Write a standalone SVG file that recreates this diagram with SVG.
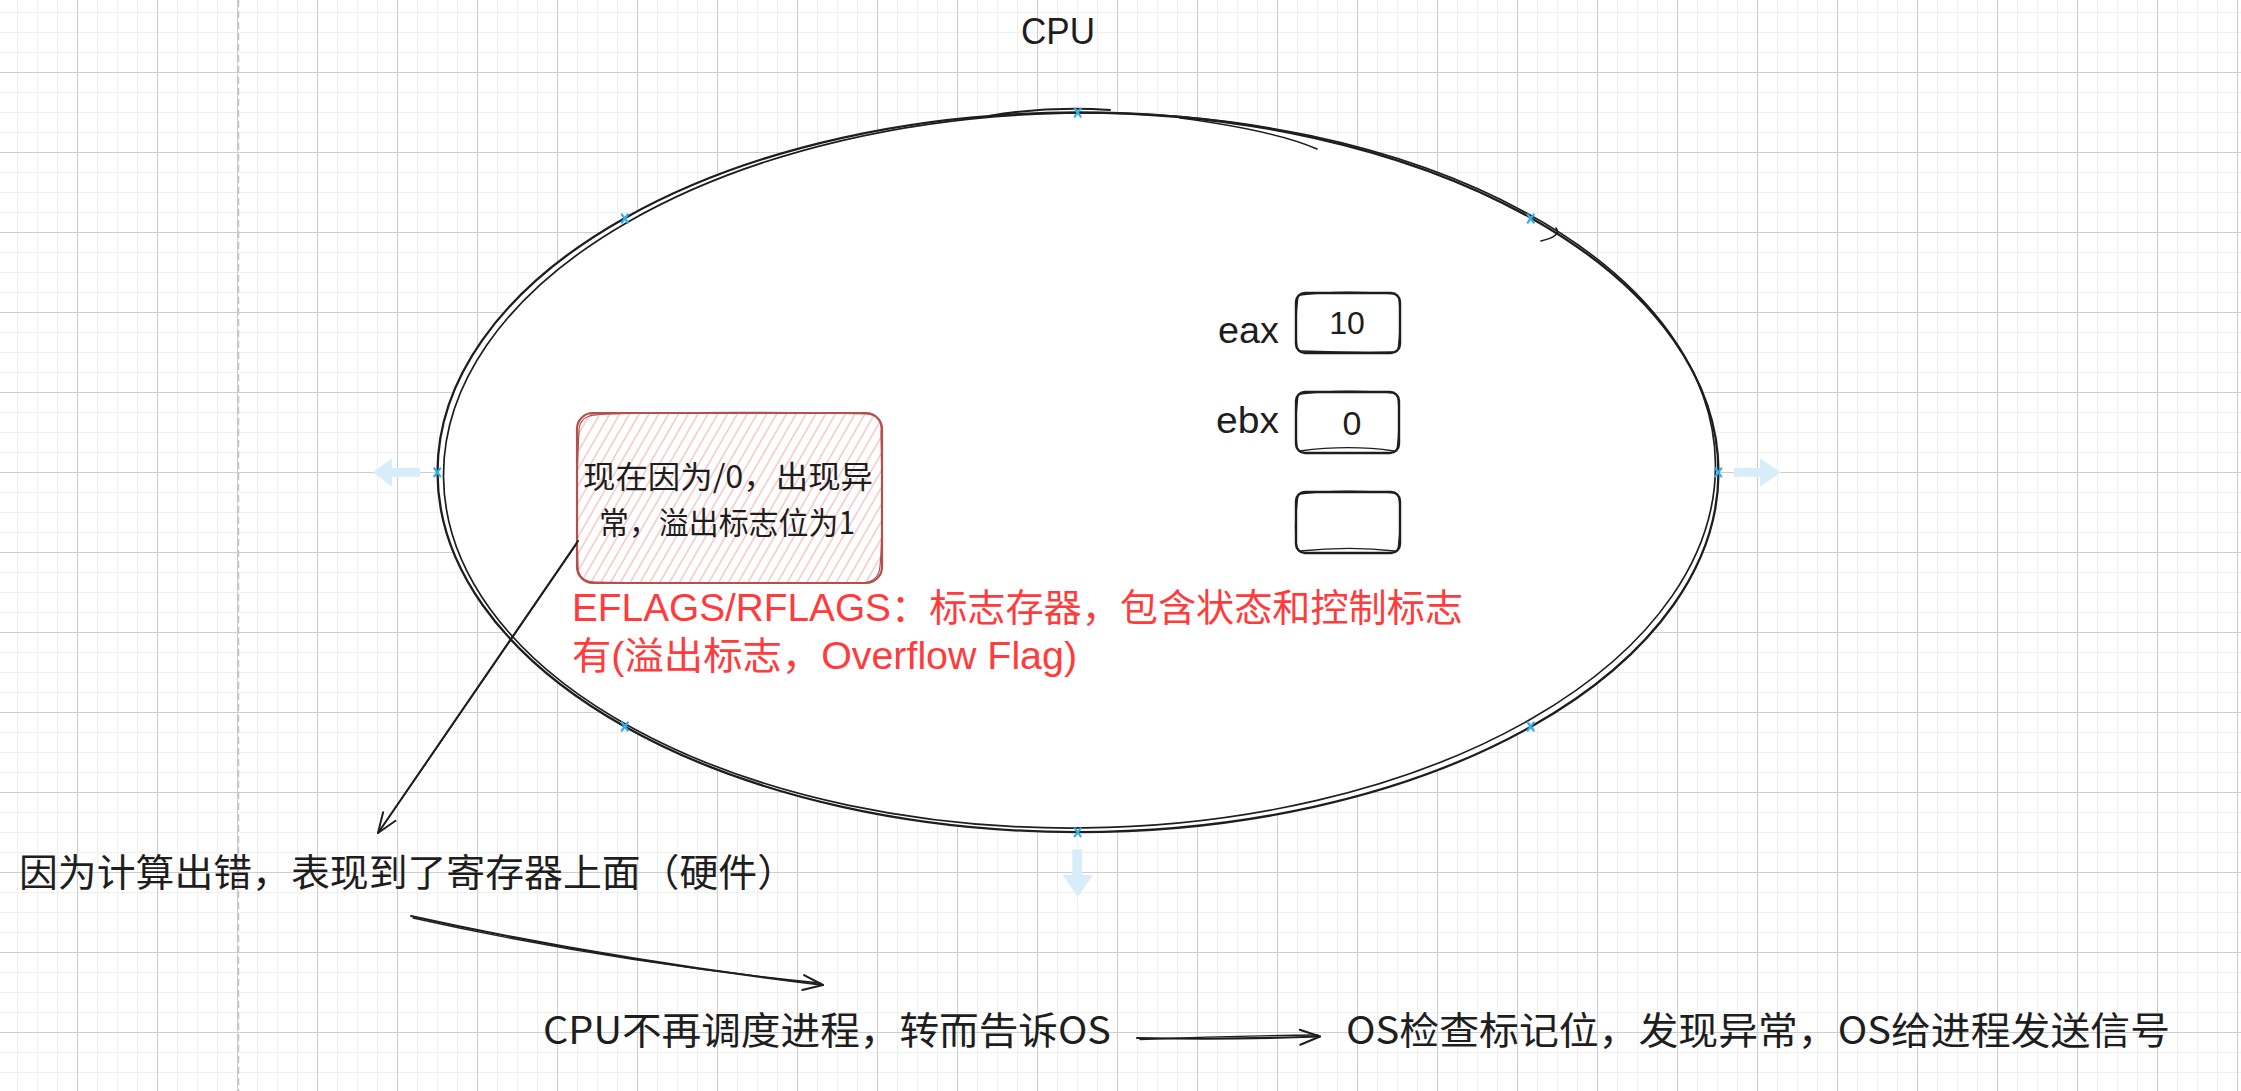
<svg xmlns="http://www.w3.org/2000/svg" width="2241" height="1091" viewBox="0 0 2241 1091">
<defs>
<pattern id="grid" x="77" y="72" width="80" height="80" patternUnits="userSpaceOnUse">
<path d="M20.5 0V80M40.5 0V80M60.5 0V80M0 20.5H80M0 40.5H80M0 60.5H80" stroke="#f0f0f0" stroke-width="1" fill="none"/>
<path d="M0.5 0V80M0 0.5H80" stroke="#cdcdcd" stroke-width="1" fill="none"/>
</pattern>
<pattern id="hach" patternUnits="userSpaceOnUse" width="8.5" height="8.5" patternTransform="rotate(30)">
<line x1="4" y1="0" x2="4" y2="8.5" stroke="#f2b2b2" stroke-width="1.1"/>
</pattern>
<marker id="ah" markerUnits="userSpaceOnUse" markerWidth="30" markerHeight="30" refX="0" refY="0" viewBox="-24 -12 30 24" orient="auto" overflow="visible">
<path d="M-20,-7.5 L0,0 L-20,7.5" fill="none" stroke="#1e1e1e" stroke-width="2" stroke-linecap="round" stroke-linejoin="round"/>
</marker>
</defs>
<style>
.ln{fill:none;stroke:#1e1e1e;stroke-linecap:round;stroke-linejoin:round}
.hd{fill:#d8edfa}
.hx{stroke:#35aee8;stroke-width:2.2;fill:none;stroke-linecap:round}
.lat{font-family:"Liberation Sans","Noto Sans",sans-serif;fill:#1e1e1e}
.cjk{font-family:"Noto Sans CJK SC","Noto Sans",sans-serif;fill:#1e1e1e}
.mix{font-family:"Liberation Sans","Noto Sans CJK SC",sans-serif}
.red{fill:#ff3b3b}
.box{fill:#fff;stroke:#1e1e1e;stroke-width:2.4}
.box2{fill:none;stroke:#1e1e1e;stroke-width:1.3}
</style>
<rect x="0" y="0" width="2241" height="1091" fill="#ffffff"/>
<rect x="0" y="0" width="2241" height="1091" fill="url(#grid)"/>
<line x1="238.5" y1="0" x2="238.5" y2="1091" stroke="#c4c4c4" stroke-width="1.5" stroke-dasharray="7 4"/>

<g id="cpu-label"><text class="lat" x="1021" y="44" font-size="36" textLength="74" lengthAdjust="spacingAndGlyphs">CPU</text></g>

<g id="cpu-ellipse">
<ellipse cx="1078" cy="472" rx="640" ry="359.5" fill="#ffffff" stroke="none"/>
<ellipse class="ln" cx="1078" cy="472.3" rx="640.5" ry="359.8" stroke-width="2.3"/>
<ellipse class="ln" cx="1079.5" cy="470.5" rx="636" ry="357.5" stroke-width="1.7" transform="rotate(-0.6 1078 472)"/>
<path class="ln" stroke-width="2" d="M989,116 C1030,109 1070,107 1110,110"/>
<path class="ln" stroke-width="1.6" d="M1180,118 C1240,126 1290,137 1317,149"/>
<path class="ln" stroke-width="1.6" d="M1556,228 Q1562,236 1541,241"/>
</g>

<g id="handles">
<path class="hx" d="M1074.7,108.7l6,8M1080.7,108.7l-6,8"/>
<path class="hx" d="M621.8,214.5l6,8M627.8,214.5l-6,8"/>
<path class="hx" d="M1527.7,214.5l6,8M1533.7,214.5l-6,8"/>
<path class="hx" d="M434.3,468.3l6,8M440.3,468.3l-6,8"/>
<path class="hx" d="M1715.3,468.3l6,8M1721.3,468.3l-6,8"/>
<path class="hx" d="M621.8,722.5l6,8M627.8,722.5l-6,8"/>
<path class="hx" d="M1527.7,722.5l6,8M1533.7,722.5l-6,8"/>
<path class="hx" d="M1074.7,828.3l6,8M1080.7,828.3l-6,8"/>
<polygon class="hd" points="373,472.3 392,458.3 392,467.7 420,467.7 420,476.7 392,476.7 392,486.7"/>
<polygon class="hd" points="1781,472.3 1760,458.3 1760,467.7 1734,467.7 1734,476.7 1760,476.7 1760,486.7"/>
<polygon class="hd" points="1077.7,896.7 1062.7,875 1072.2,875 1072.2,849.3 1082.2,849.3 1082.2,875 1093.3,875"/>
</g>

<g id="reg-eax">
<text class="lat" x="1218" y="343" font-size="37" textLength="61" lengthAdjust="spacingAndGlyphs">eax</text>
<rect class="box" x="1296" y="293" width="104" height="60" rx="9"/>
<path class="box2" d="M1300,295 C1330,291 1370,292 1396,294 M1399,298 C1401,318 1400,335 1398,350 M1395,352 C1360,353 1330,352 1300,351 M1297,348 C1295,330 1296,312 1298,296"/>
<text class="lat" x="1347" y="334" font-size="32" text-anchor="middle">10</text>
</g>

<g id="reg-ebx">
<text class="lat" x="1216" y="433" font-size="37" textLength="63" lengthAdjust="spacingAndGlyphs">ebx</text>
<rect class="box" x="1296" y="392" width="103" height="61" rx="9"/>
<path class="box2" d="M1300,394 C1330,390 1370,391 1395,393 M1398,397 C1400,418 1399,435 1397,450 M1394,451 C1360,446 1330,447 1300,451 M1297,447 C1295,430 1296,412 1298,395"/>
<text class="lat" x="1352" y="435" font-size="34" text-anchor="middle">0</text>
</g>

<g id="reg-empty">
<rect class="box" x="1296" y="492" width="104" height="61" rx="9"/>
<path class="box2" d="M1299,494 C1330,490 1370,491 1396,493 M1399,497 C1401,518 1400,535 1398,550 M1395,551 C1360,547 1330,548 1300,551 M1297,548 C1294,530 1296,512 1298,495"/>
</g>

<g id="note-box">
<rect x="577" y="413" width="305" height="170" rx="16" fill="url(#hach)" stroke="#b4504d" stroke-width="2.2"/>
<path d="M590,415 C680,411 800,412 866,414 Q883,415 881,432 C882,480 883,540 880,566 Q879,582 862,583 C780,584 660,583 596,582 Q578,582 578,566 C576,520 577,470 579,430 Q580,415 598,415" fill="none" stroke="#b4504d" stroke-width="1.2"/>
<text class="cjk" font-size="31"><tspan x="583" y="488" textLength="290" lengthAdjust="spacingAndGlyphs">现在因为/0，出现异</tspan><tspan x="599" y="534" textLength="256" lengthAdjust="spacingAndGlyphs">常，溢出标志位为1</tspan></text>
</g>

<g id="eflags-note">
<text class="mix red" font-size="38"><tspan x="572" y="621" textLength="319" lengthAdjust="spacingAndGlyphs">EFLAGS/RFLAGS</tspan><tspan x="891" y="621" textLength="572" lengthAdjust="spacingAndGlyphs">：标志存器，包含状态和控制标志</tspan><tspan x="572" y="669" textLength="505" lengthAdjust="spacingAndGlyphs">有(溢出标志，Overflow Flag)</tspan></text>
</g>

<g id="text-hardware"><text class="cjk" x="19" y="886" font-size="38" textLength="777" lengthAdjust="spacingAndGlyphs">因为计算出错，表现到了寄存器上面（硬件）</text></g>
<g id="text-cpu-os"><text class="cjk" x="543" y="1044" font-size="38" textLength="568" lengthAdjust="spacingAndGlyphs">CPU不再调度进程，转而告诉OS</text></g>
<g id="text-os-signal"><text class="cjk" x="1346" y="1044" font-size="38" textLength="824" lengthAdjust="spacingAndGlyphs">OS检查标记位，发现异常，OS给进程发送信号</text></g>

<g id="connectors">
<path class="ln" stroke-width="2" d="M578,541 L378,833" marker-end="url(#ah)"/>
<path class="ln" stroke-width="1.3" d="M576,545 L381,829"/>
<path class="ln" stroke-width="2" d="M411,916 Q600,958 823,985" marker-end="url(#ah)"/>
<path class="ln" stroke-width="1.3" d="M413,918 Q610,962 820,983"/>
<path class="ln" stroke-width="2.2" d="M1137,1038 Q1230,1040 1320,1036.5" marker-end="url(#ah)"/>
<path class="ln" stroke-width="1.3" d="M1140,1039.5 Q1230,1036 1318,1035"/>
</g>
</svg>
